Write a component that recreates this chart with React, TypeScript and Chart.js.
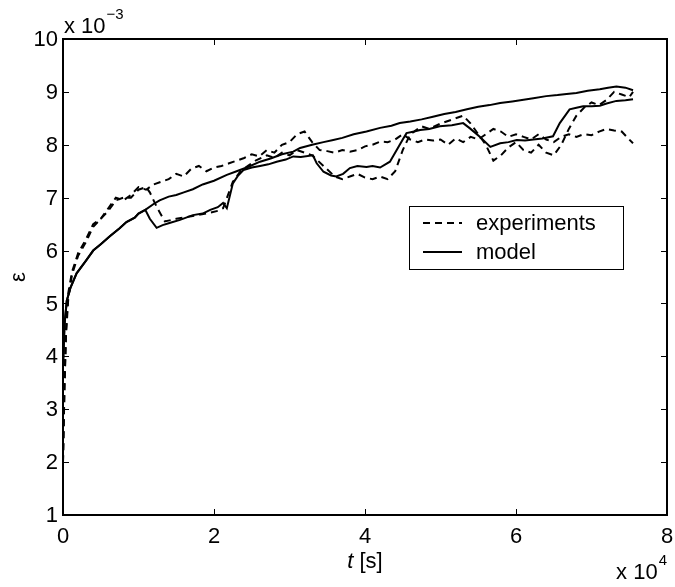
import React, { useEffect, useRef } from "react";
import { Chart, registerables } from "chart.js";

Chart.register(...registerables);

// ---- data (t in 10^4 s, strain in 10^-3) ----
const EXP1_T = [0.0, 0.02, 0.04, 0.07, 0.12, 0.2, 0.3, 0.4, 0.5, 0.6, 0.7, 0.8, 0.9, 1.0, 1.1, 1.2, 1.3, 1.4, 1.5, 1.6, 1.7, 1.8, 1.9, 2.0, 2.1, 2.2, 2.3, 2.4, 2.5, 2.6, 2.7, 2.8, 2.9, 3.0, 3.1, 3.2, 3.3, 3.4, 3.5, 3.6, 3.7, 3.8, 3.9, 4.0, 4.1, 4.2, 4.3, 4.4, 4.5, 4.6, 4.7, 4.8, 4.9, 5.0, 5.1, 5.2, 5.3, 5.4, 5.5, 5.6, 5.7, 5.8, 5.9, 6.0, 6.1, 6.2, 6.3, 6.4, 6.5, 6.6, 6.7, 6.8, 6.9, 7.0, 7.1, 7.2, 7.3, 7.4, 7.5, 7.55];
const EXP1_E = [2.0, 3.5, 4.5, 5.2, 5.6, 5.95, 6.2, 6.5, 6.6, 6.8, 7.0, 6.95, 7.05, 7.2, 7.15, 7.25, 7.3, 7.35, 7.45, 7.4, 7.55, 7.6, 7.5, 7.57, 7.6, 7.65, 7.7, 7.75, 7.82, 7.78, 7.9, 7.85, 8.0, 8.05, 8.2, 8.25, 8.05, 7.9, 7.88, 7.85, 7.9, 7.87, 7.9, 7.97, 8.0, 8.06, 8.05, 8.1, 8.2, 8.1, 8.05, 8.1, 8.08, 8.1, 8.0, 8.12, 8.05, 8.15, 8.1, 8.2, 8.3, 8.25, 8.15, 8.2, 8.15, 8.1, 8.2, 8.1, 8.05, 8.15, 8.2, 8.15, 8.2, 8.18, 8.25, 8.3, 8.27, 8.25, 8.1, 8.03];

const EXP2_T = [0.0, 0.02, 0.04, 0.07, 0.12, 0.2, 0.3, 0.4, 0.5, 0.6, 0.7, 0.8, 0.9, 1.0, 1.1, 1.15, 1.25, 1.35, 1.5, 1.7, 1.9, 2.05, 2.12, 2.25, 2.35, 2.45, 2.55, 2.7, 2.8, 2.9, 3.0, 3.1, 3.2, 3.3, 3.45, 3.6, 3.7, 3.8, 3.9, 4.0, 4.1, 4.2, 4.3, 4.4, 4.5, 4.6, 4.75, 4.85, 5.0, 5.1, 5.2, 5.3, 5.4, 5.5, 5.6, 5.7, 5.8, 5.9, 6.0, 6.1, 6.2, 6.3, 6.4, 6.5, 6.6, 6.7, 6.8, 6.9, 7.0, 7.1, 7.2, 7.3, 7.4, 7.5, 7.55];
const EXP2_E = [2.0, 3.4, 4.4, 5.1, 5.55, 5.9, 6.15, 6.45, 6.6, 6.75, 6.95, 7.0, 7.0, 7.15, 7.2, 7.1, 6.8, 6.55, 6.6, 6.65, 6.7, 6.75, 6.8, 7.3, 7.5, 7.6, 7.7, 7.8, 7.75, 7.85, 7.8, 7.9, 7.85, 7.8, 7.6, 7.4, 7.35, 7.4, 7.45, 7.38, 7.35, 7.4, 7.35, 7.5, 7.9, 8.2, 8.35, 8.3, 8.4, 8.45, 8.5, 8.55, 8.4, 8.2, 8.0, 7.7, 7.8, 7.95, 8.05, 7.9, 7.85, 8.0, 7.85, 7.8, 8.0, 8.3, 8.55, 8.7, 8.8, 8.75, 8.85, 9.0, 8.95, 8.9, 9.0];

const MOD1_T = [0.0, 0.02, 0.05, 0.1, 0.18, 0.3, 0.4, 0.5, 0.62, 0.75, 0.84, 0.95, 1.0, 1.09, 1.2, 1.28, 1.4, 1.5, 1.6, 1.72, 1.85, 2.0, 2.17, 2.3, 2.45, 2.61, 2.75, 2.9, 3.05, 3.14, 3.3, 3.45, 3.58, 3.7, 3.85, 4.02, 4.2, 4.35, 4.46, 4.6, 4.75, 4.9, 5.05, 5.2, 5.35, 5.5, 5.65, 5.79, 5.95, 6.1, 6.23, 6.4, 6.55, 6.67, 6.8, 6.95, 7.11, 7.22, 7.33, 7.45, 7.55];
const MOD1_E = [3.8, 4.6, 5.05, 5.3, 5.57, 5.8, 6.0, 6.12, 6.27, 6.42, 6.54, 6.62, 6.7, 6.77, 6.88, 6.95, 7.02, 7.05, 7.1, 7.16, 7.25, 7.32, 7.43, 7.5, 7.58, 7.68, 7.74, 7.82, 7.87, 7.94, 8.0, 8.05, 8.09, 8.13, 8.2, 8.25, 8.32, 8.36, 8.41, 8.44, 8.48, 8.53, 8.58, 8.62, 8.67, 8.72, 8.75, 8.79, 8.82, 8.85, 8.88, 8.92, 8.94, 8.96, 8.98, 9.02, 9.05, 9.08, 9.1, 9.08, 9.03];

const MOD2_T = [0.0, 0.02, 0.05, 0.1, 0.18, 0.3, 0.4, 0.5, 0.62, 0.75, 0.84, 0.95, 1.0, 1.09, 1.15, 1.24, 1.32, 1.41, 1.55, 1.72, 1.85, 1.95, 2.05, 2.12, 2.17, 2.25, 2.32, 2.39, 2.5, 2.61, 2.72, 2.83, 2.95, 3.05, 3.15, 3.31, 3.36, 3.45, 3.55, 3.62, 3.71, 3.8, 3.9, 4.02, 4.1, 4.2, 4.33, 4.42, 4.5, 4.55, 4.65, 4.73, 4.85, 4.99, 5.15, 5.3, 5.39, 5.52, 5.66, 5.79, 5.9, 6.01, 6.12, 6.23, 6.35, 6.49, 6.58, 6.71, 6.8, 6.89, 7.0, 7.11, 7.2, 7.33, 7.45, 7.55];
const MOD2_E = [3.8, 4.6, 5.05, 5.3, 5.57, 5.8, 6.0, 6.12, 6.27, 6.42, 6.54, 6.62, 6.7, 6.77, 6.6, 6.43, 6.48, 6.52, 6.58, 6.67, 6.7, 6.77, 6.82, 6.9, 6.8, 7.27, 7.42, 7.52, 7.57, 7.6, 7.63, 7.68, 7.72, 7.78, 7.77, 7.8, 7.65, 7.49, 7.42, 7.4, 7.45, 7.56, 7.6, 7.58, 7.6, 7.57, 7.68, 7.9, 8.1, 8.22, 8.25, 8.28, 8.3, 8.35, 8.37, 8.41, 8.31, 8.15, 7.96, 8.03, 8.05, 8.09, 8.08, 8.1, 8.12, 8.16, 8.41, 8.67, 8.7, 8.73, 8.73, 8.74, 8.78, 8.83, 8.84, 8.86];

const X_TICKS = [0, 2, 4, 6, 8];
const Y_TICKS = [1, 2, 3, 4, 5, 6, 7, 8, 9, 10];
const LEGEND_LABELS = ["experiments", "model"];

const FONT = '"Liberation Sans", Arial, Helvetica, sans-serif';

const toPts = (t: number[], e: number[]) => t.map((v, i) => ({ x: v, y: e[i] }));

export default function App() {
  const ref = useRef<HTMLCanvasElement | null>(null);

  useEffect(() => {
    if (!ref.current) return;
    const decor = {
      id: "decor",
      afterDraw(chart: any) {
        const ctx = chart.ctx as CanvasRenderingContext2D;
        const { left, right, top, bottom } = chart.chartArea;
        const xs = chart.scales.x;
        const ys = chart.scales.y;
        ctx.save();
        ctx.strokeStyle = "#000";
        ctx.fillStyle = "#000";
        // ticks (inward)
        ctx.lineWidth = 1;
        const TL = 6;
        ctx.beginPath();
        X_TICKS.forEach((v) => {
          const px = Math.round(xs.getPixelForValue(v)) + 0.5;
          ctx.moveTo(px, bottom);
          ctx.lineTo(px, bottom - TL);
          ctx.moveTo(px, top);
          ctx.lineTo(px, top + TL);
        });
        Y_TICKS.forEach((v) => {
          const py = Math.round(ys.getPixelForValue(v)) + 0.5;
          ctx.moveTo(left, py);
          ctx.lineTo(left + TL, py);
          ctx.moveTo(right, py);
          ctx.lineTo(right - TL, py);
        });
        ctx.stroke();
        // frame
        ctx.lineWidth = 2;
        ctx.strokeRect(left, top, right - left, bottom - top);

        // tick labels
        ctx.font = `22px ${FONT}`;
        ctx.textBaseline = "middle";
        ctx.textAlign = "right";
        Y_TICKS.forEach((v) => {
          ctx.fillText(String(v), left - 5, ys.getPixelForValue(v) + 1);
        });
        ctx.textAlign = "center";
        X_TICKS.forEach((v) => {
          ctx.fillText(String(v), xs.getPixelForValue(v), bottom + 22);
        });

        // exponents
        ctx.textAlign = "left";
        ctx.textBaseline = "alphabetic";
        ctx.font = `22px ${FONT}`;
        ctx.fillText("x 10", left + 1, top - 6);
        const w = ctx.measureText("x 10").width;
        ctx.font = `15px ${FONT}`;
        ctx.fillText("\u22123", left + 1 + w + 1, top - 20);

        ctx.font = `22px ${FONT}`;
        const xw = ctx.measureText("x 10").width;
        ctx.font = `15px ${FONT}`;
        const ew = ctx.measureText("4").width;
        const xStart = right - xw - ew - 1;
        ctx.font = `22px ${FONT}`;
        ctx.fillText("x 10", xStart, 579);
        ctx.font = `15px ${FONT}`;
        ctx.fillText("4", xStart + xw + 1, 565);

        // x title
        ctx.font = `italic 22px ${FONT}`;
        const tW = ctx.measureText("t").width;
        ctx.font = `22px ${FONT}`;
        const sW = ctx.measureText(" [s]").width;
        const cx = (left + right) / 2;
        const sx = cx - (tW + sW) / 2;
        ctx.font = `italic 22px ${FONT}`;
        ctx.fillText("t", sx, 568);
        ctx.font = `22px ${FONT}`;
        ctx.fillText(" [s]", sx + tW, 568);

        // y title
        ctx.save();
        ctx.translate(19, (top + bottom) / 2);
        ctx.rotate(-Math.PI / 2);
        ctx.textAlign = "center";
        ctx.textBaseline = "middle";
        ctx.font = `22px ${FONT}`;
        ctx.fillText("\u03b5", 0, 0);
        ctx.restore();

        // legend
        const bx = 409, by = 206, bw = 214, bh = 63;
        ctx.fillStyle = "#fff";
        ctx.fillRect(bx, by, bw, bh);
        ctx.fillStyle = "#000";
        ctx.lineWidth = 1;
        ctx.strokeRect(bx + 0.5, by + 0.5, bw, bh);
        const rows = [by + 17, by + 46];
        const dsets = chart.data.datasets;
        LEGEND_LABELS.forEach((lab, i) => {
          const ds = dsets[i === 0 ? 0 : 2];
          ctx.lineWidth = 2;
          ctx.setLineDash(ds.borderDash || []);
          ctx.beginPath();
          ctx.moveTo(bx + 14, rows[i]);
          ctx.lineTo(bx + 53, rows[i]);
          ctx.stroke();
          ctx.setLineDash([]);
          ctx.font = `22px ${FONT}`;
          ctx.textBaseline = "middle";
          ctx.textAlign = "left";
          ctx.fillText(lab, bx + 67, rows[i] + 1);
        });
        ctx.restore();
      },
    };

    const common = { pointRadius: 0, borderWidth: 2, borderColor: "#000", fill: false, tension: 0 };
    const chart = new Chart(ref.current, {
      type: "line",
      data: {
        datasets: [
          { ...common, label: "experiments", data: toPts(EXP1_T, EXP1_E), borderDash: [7, 5] },
          { ...common, label: "experiments 2", data: toPts(EXP2_T, EXP2_E), borderDash: [7, 5] },
          { ...common, label: "model", data: toPts(MOD1_T, MOD1_E) },
          { ...common, label: "model 2", data: toPts(MOD2_T, MOD2_E) },
        ],
      },
      options: {
        animation: false,
        responsive: false,
        events: [],
        layout: { padding: { top: 39, right: 8, left: 0, bottom: 0 } },
        plugins: { legend: { display: false }, tooltip: { enabled: false } },
        scales: {
          x: {
            type: "linear",
            min: 0,
            max: 8,
            grid: { display: false },
            border: { display: false },
            ticks: { display: false },
            afterFit: (s: any) => { s.height = 72; },
          },
          y: {
            type: "linear",
            min: 1,
            max: 10,
            grid: { display: false },
            border: { display: false },
            ticks: { display: false },
            afterFit: (s: any) => { s.width = 63; },
          },
        },
      },
      plugins: [decor],
    });
    return () => chart.destroy();
  }, []);

  return (
    <div style={{ position: "fixed", left: 0, top: 0, width: 675, height: 587, background: "#fff" }}>
      <canvas ref={ref} width={675} height={587} style={{ display: "block" }} />
    </div>
  );
}
